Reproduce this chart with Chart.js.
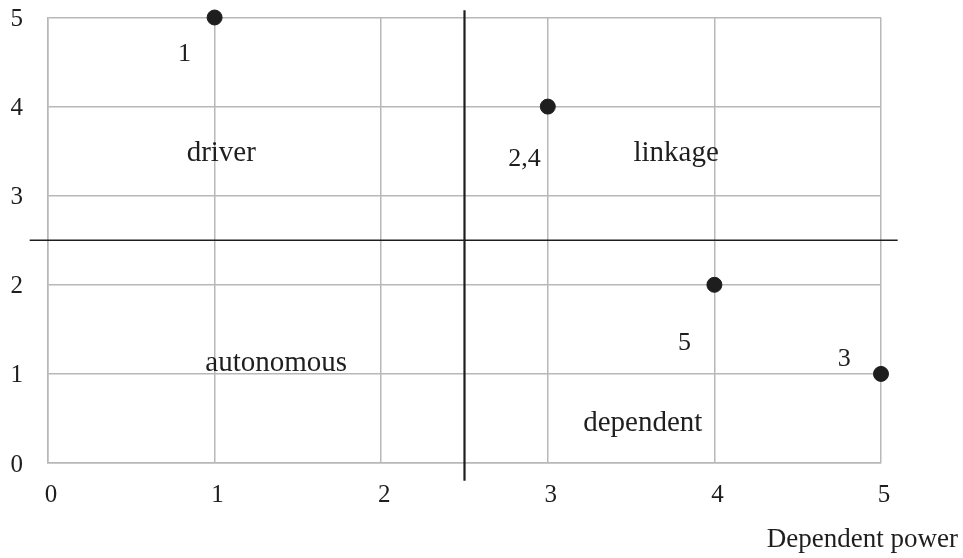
<!DOCTYPE html>
<html>
<head>
<meta charset="utf-8">
<script src="https://cdn.jsdelivr.net/npm/chart.js@4/dist/chart.umd.min.js"></script>
<style>
  html, body { margin: 0; padding: 0; background: #fff; }
  #wrap { width: 963px; height: 558px; position: relative; }
</style>
</head>
<body>
<div id="wrap"><canvas id="c" width="963" height="558"></canvas></div>
<script>
// ---- data ----
const factorNames = ["1", "2,4", "5", "3"];
const drivingPower = [5, 4, 2, 1];      // y values
const dependentPower = [1, 3, 4, 5];    // x values
// where each point's name is written (data units)
const nameX = [0.82, 2.86, 3.82, 4.78];
const nameY = [4.59, 3.41, 1.34, 1.17];
// quadrant names and their anchor (data units)
const quadrantNames = ["driver", "linkage", "autonomous", "dependent"];
const quadrantX = [1.04, 3.77, 1.37, 3.57];
const quadrantY = [3.47, 3.47, 1.12, 0.44];
// tick values
const tickValues = [0, 1, 2, 3, 4, 5];
// dividing lines (data units)
const dividerV = [{x: 2.5, y: -0.2}, {x: 2.5, y: 5.08}];
const dividerH = [{x: -0.11, y: 2.5}, {x: 5.1, y: 2.5}];
const xTitle = "Dependent power";

const FONT = "'Liberation Serif', 'DejaVu Serif', serif";
const INK = "#1e1e1e";
const GRID = "#b8b8b8";

const points = dependentPower.map((x, i) => ({x: x, y: drivingPower[i]}));

const textPlugin = {
  id: 'texts',
  afterDatasetsDraw(chart) {
    const {ctx, scales: {x, y}} = chart;
    ctx.save();
    ctx.fillStyle = INK;
    ctx.textAlign = 'center';
    ctx.textBaseline = 'middle';
    ctx.font = "26px " + FONT;
    factorNames.forEach((t, i) => {
      ctx.fillText(t, x.getPixelForValue(nameX[i]), y.getPixelForValue(nameY[i]));
    });
    ctx.font = "29px " + FONT;
    quadrantNames.forEach((t, i) => {
      ctx.fillText(t, x.getPixelForValue(quadrantX[i]), y.getPixelForValue(quadrantY[i]));
    });
    ctx.font = "27px " + FONT;
    ctx.textAlign = 'right';
    ctx.textBaseline = 'alphabetic';
    ctx.fillText(xTitle, 958, 547);
    ctx.restore();
  }
};

new Chart(document.getElementById('c'), {
  type: 'scatter',
  data: {
    datasets: [
      {
        data: points,
        backgroundColor: INK,
        borderColor: INK,
        pointRadius: 7.5,
        pointHoverRadius: 7.5,
        clip: false
      },
      {
        type: 'line',
        data: dividerV,
        borderColor: INK,
        borderWidth: 2.2,
        pointRadius: 0,
        clip: false
      },
      {
        type: 'line',
        data: dividerH,
        borderColor: INK,
        borderWidth: 1.4,
        pointRadius: 0,
        clip: false
      }
    ]
  },
  options: {
    responsive: false,
    animation: false,
    events: [],
    layout: { padding: { left: 0, right: 82, top: 17.5, bottom: 0 } },
    plugins: { legend: { display: false }, tooltip: { enabled: false } },
    scales: {
      x: {
        type: 'linear',
        min: 0, max: 5,
        afterBuildTicks: (s) => { s.ticks = tickValues.map(v => ({value: v})); },
        afterFit: (s) => { s.height = 95; s.paddingLeft = 0; s.paddingRight = 0; s.paddingTop = 0; s.paddingBottom = 0; },
        grid: { color: GRID, lineWidth: 1.5, drawTicks: false },
        border: { color: GRID, width: 1.5 },
        ticks: { color: INK, font: { family: FONT, size: 25 }, padding: 17, labelOffset: 3 }
      },
      y: {
        type: 'linear',
        min: 0, max: 5,
        afterBuildTicks: (s) => { s.ticks = tickValues.map(v => ({value: v})); },
        afterFit: (s) => { s.width = 48; s.paddingLeft = 0; s.paddingRight = 0; s.paddingTop = 0; s.paddingBottom = 0; },
        grid: { color: GRID, lineWidth: 1.5, drawTicks: false },
        border: { color: GRID, width: 1.5 },
        ticks: { color: INK, font: { family: FONT, size: 25 }, padding: 25, labelOffset: 2 }
      }
    }
  },
  plugins: [textPlugin]
});
</script>
</body>
</html>
